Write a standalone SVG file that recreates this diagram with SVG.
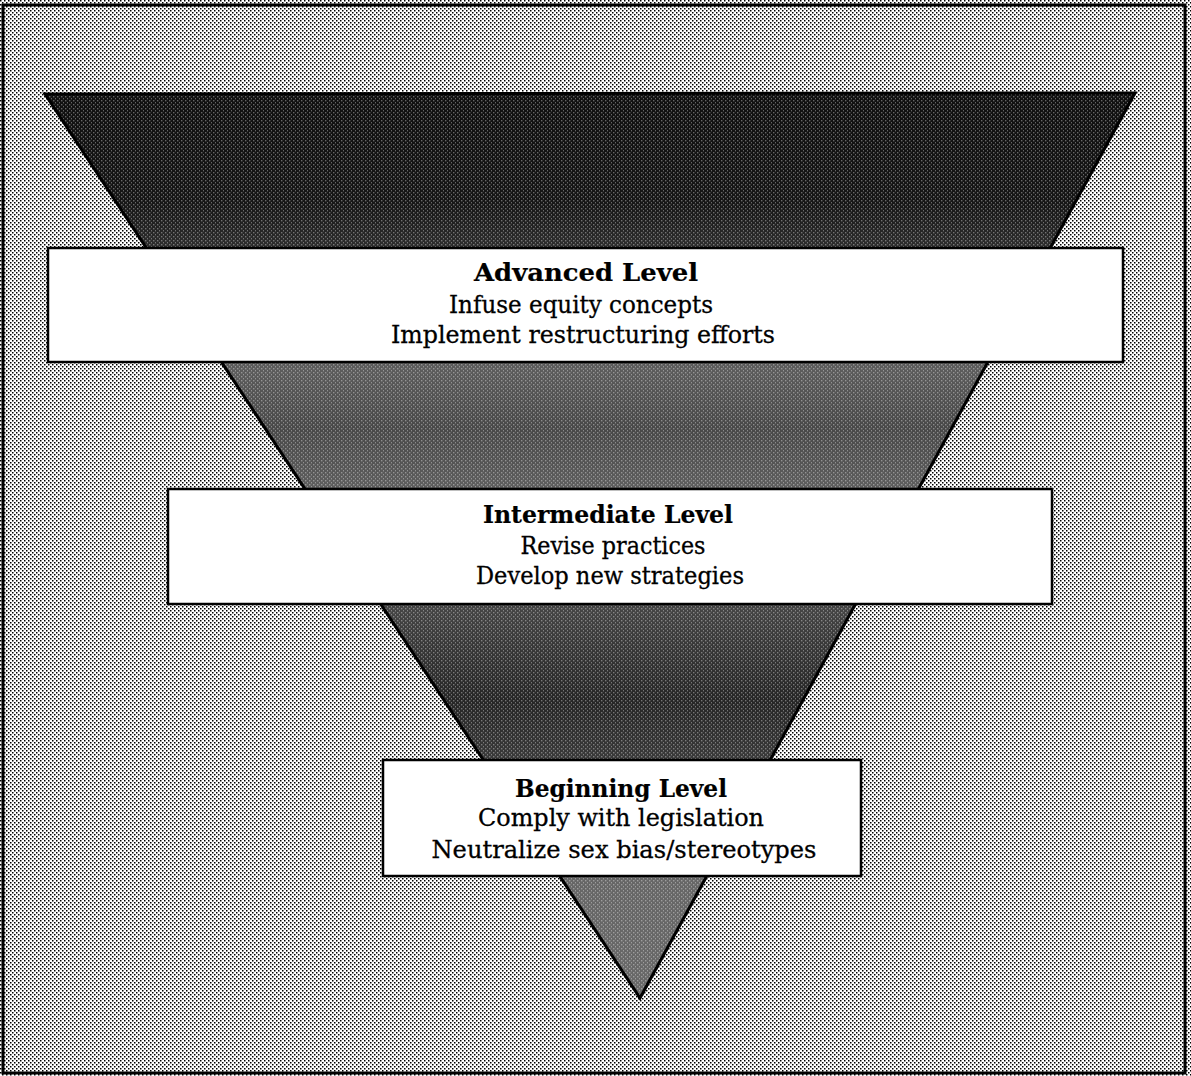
<svg xmlns="http://www.w3.org/2000/svg" width="1191" height="1076" viewBox="0 0 1191 1076">
  <defs>
    <!-- light halftone screen for the page background -->
    <pattern id="screenLight" width="4" height="4" patternUnits="userSpaceOnUse">
      <rect width="4" height="4" fill="#ffffff"/>
      <rect x="0" y="0" width="1.5" height="1.5" fill="#000"/>
      <rect x="2" y="2" width="1.5" height="1.5" fill="#000"/>
    </pattern>
    <!-- white speckle laid over the dark funnel -->
    <pattern id="speckle" width="4" height="4" patternUnits="userSpaceOnUse">
      <rect x="1" y="0" width="1.4" height="1.4" fill="#fff"/>
      <rect x="3" y="2" width="1.4" height="1.4" fill="#fff"/>
    </pattern>
    <!-- tone bands of the funnel, top to tip -->
    <linearGradient id="funnelShade" x1="0" y1="93" x2="0" y2="1000" gradientUnits="userSpaceOnUse">
      <stop offset="0" stop-color="#101010"/>
      <stop offset="0.12" stop-color="#161616"/>
      <stop offset="0.175" stop-color="#303030"/>
      <stop offset="0.305" stop-color="#5c5c5c"/>
      <stop offset="0.37" stop-color="#484848"/>
      <stop offset="0.435" stop-color="#5e5e5e"/>
      <stop offset="0.57" stop-color="#444444"/>
      <stop offset="0.67" stop-color="#262626"/>
      <stop offset="0.735" stop-color="#3a3a3a"/>
      <stop offset="0.86" stop-color="#666666"/>
      <stop offset="1" stop-color="#686868"/>
    </linearGradient>
    <style>
      .level { fill: #ffffff; stroke: #000; stroke-width: 2.5; }
      .label { font-family: "DejaVu Serif", "Liberation Serif", serif; font-size: 24px; fill: #000; stroke: #000; stroke-width: 0.3; text-anchor: middle; }
      .title { font-weight: bold; stroke-width: 0.2; }
    </style>
  </defs>

  <!-- page background and frame -->
  <rect x="0" y="0" width="1191" height="1076" fill="url(#screenLight)"/>
  <rect x="3" y="5" width="1182" height="1068" fill="none" stroke="#000" stroke-width="3"/>

  <!-- inverted funnel -->
  <g id="funnel">
    <polygon points="45,94 1135,93 640,998" fill="url(#funnelShade)"/>
    <polygon points="45,94 1135,93 640,998" fill="url(#speckle)" opacity="0.35"/>
    <polygon points="45,94 1135,93 640,998" fill="none" stroke="#000" stroke-width="3" stroke-linejoin="miter"/>
  </g>

  <g id="advanced-level">
    <rect class="level" x="48" y="248" width="1075" height="114"/>
    <text class="label title" x="586" y="281" textLength="224" lengthAdjust="spacingAndGlyphs">Advanced Level</text>
    <text class="label" x="581" y="313" textLength="264" lengthAdjust="spacingAndGlyphs">Infuse equity concepts</text>
    <text class="label" x="583" y="343" textLength="384" lengthAdjust="spacingAndGlyphs">Implement restructuring efforts</text>
  </g>

  <g id="intermediate-level">
    <rect class="level" x="168" y="489" width="884" height="115"/>
    <text class="label title" x="608" y="523" textLength="250" lengthAdjust="spacingAndGlyphs">Intermediate Level</text>
    <text class="label" x="613" y="554" textLength="185" lengthAdjust="spacingAndGlyphs">Revise practices</text>
    <text class="label" x="610" y="584" textLength="268" lengthAdjust="spacingAndGlyphs">Develop new strategies</text>
  </g>

  <g id="beginning-level">
    <rect class="level" x="383" y="760" width="478" height="116"/>
    <text class="label title" x="621" y="797" textLength="212" lengthAdjust="spacingAndGlyphs">Beginning Level</text>
    <text class="label" x="621" y="826" textLength="286" lengthAdjust="spacingAndGlyphs">Comply with legislation</text>
    <text class="label" x="624" y="858" textLength="385" lengthAdjust="spacingAndGlyphs">Neutralize sex bias/stereotypes</text>
  </g>
</svg>
